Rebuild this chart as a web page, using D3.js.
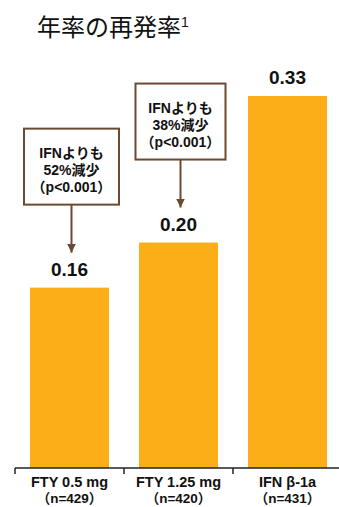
<!DOCTYPE html>
<html><head><meta charset="utf-8">
<script src="https://cdn.jsdelivr.net/npm/d3@7"></script>
<style>body{margin:0;background:#fff}svg{display:block}</style>
</head><body>
<svg id="c" width="339" height="507"></svg>
<script>
const categories = ["FTY 0.5 mg", "FTY 1.25 mg", "IFN β-1a"];
const nLabels = ["（n=429）", "（n=420）", "（n=431）"];
const values = [0.16, 0.20, 0.33];
const valueLabels = ["0.16", "0.20", "0.33"];
const calloutLines = [
  ["IFNよりも", "52%減少", "（p<0.001）"],
  ["IFNよりも", "38%減少", "（p<0.001）"]
];
const title = "年率の再発率";
const titleSup = "1";

const svg = d3.select("#c");
const orange = "#FBAE17", brown = "#6B4A31";
const latin = "'Liberation Sans', Arial, 'Noto Sans CJK JP', sans-serif";
const cjk = "'Noto Sans CJK JP', sans-serif";

const x = d3.scaleBand().domain(categories).range([15, 342]).paddingInner(0.275).paddingOuter(0.1375);
const y = d3.scaleLinear().domain([0, 0.33]).range([468, 96]);

// title
const t = svg.append("text").attr("x", 37).attr("y", 36)
  .attr("font-family", cjk).attr("font-size", 24).attr("fill", "#111").text(title);
t.append("tspan").attr("font-family", latin).attr("font-size", 14).attr("dy", -9).text(titleSup);

// bars
svg.selectAll("rect.bar").data(values).join("rect").attr("class", "bar")
  .attr("x", (d, i) => x(categories[i])).attr("width", x.bandwidth())
  .attr("y", d => y(d)).attr("height", d => y(0) - y(d)).attr("fill", orange);

// value labels
svg.selectAll("text.val").data(values).join("text").attr("class", "val")
  .attr("x", (d, i) => x(categories[i]) + x.bandwidth() / 2).attr("y", d => y(d) - 12)
  .attr("text-anchor", "middle").attr("font-family", latin).attr("font-weight", "bold")
  .attr("font-size", 19).attr("fill", "#111").text((d, i) => valueLabels[i]);

// axis
const step = x.step(), gap = step * x.paddingInner();
svg.append("line").attr("x1", 15).attr("x2", 339).attr("y1", y(0)).attr("y2", y(0))
  .attr("stroke", "#222").attr("stroke-width", 1.5);
categories.forEach((c, i) => {
  const tx = x(c) - gap / 2;
  svg.append("line").attr("x1", tx).attr("x2", tx).attr("y1", y(0)).attr("y2", y(0) + 6)
    .attr("stroke", "#222").attr("stroke-width", 1.5);
  const cx = x(c) + x.bandwidth() / 2;
  svg.append("text").attr("x", cx).attr("y", y(0) + 19).attr("text-anchor", "middle")
    .attr("font-family", latin).attr("font-weight", "bold").attr("font-size", 14.5).attr("fill", "#111").text(c);
  svg.append("text").attr("x", cx).attr("y", y(0) + 35).attr("text-anchor", "middle")
    .attr("font-family", latin).attr("font-weight", "bold").attr("font-size", 13.5).attr("fill", "#111").text(nLabels[i]);
});

// callouts
const defs = svg.append("defs");
defs.append("marker").attr("id", "ah").attr("viewBox", "0 0 10 10").attr("refX", 10).attr("refY", 5)
  .attr("markerWidth", 4.5).attr("markerHeight", 4.5).attr("markerUnits", "strokeWidth").attr("orient", "auto")
  .append("path").attr("d", "M0,0L10,5L0,10z").attr("fill", brown);

const boxW = [95, 90], boxH = 76;
calloutLines.forEach((lines, i) => {
  const cx = x(categories[i]) + x.bandwidth() / 2 + 2;
  const labelTop = y(values[i]) - 12 - 16;
  const boxBottom = labelTop - 55;
  const boxTop = boxBottom - boxH;
  svg.append("rect").attr("x", cx - boxW[i] / 2).attr("y", boxTop).attr("width", boxW[i]).attr("height", boxH)
    .attr("fill", "#fff").attr("stroke", brown).attr("stroke-width", 2);
  svg.append("line").attr("x1", cx).attr("x2", cx).attr("y1", boxBottom).attr("y2", labelTop - 7)
    .attr("stroke", brown).attr("stroke-width", 2).attr("marker-end", "url(#ah)");
  lines.forEach((ln, j) => {
    svg.append("text").attr("x", cx).attr("y", boxTop + 29 + j * 17).attr("text-anchor", "middle")
      .attr("font-family", latin).attr("font-weight", "bold").attr("font-size", 14).attr("fill", "#111").text(ln);
  });
});
</script>
</body></html>
